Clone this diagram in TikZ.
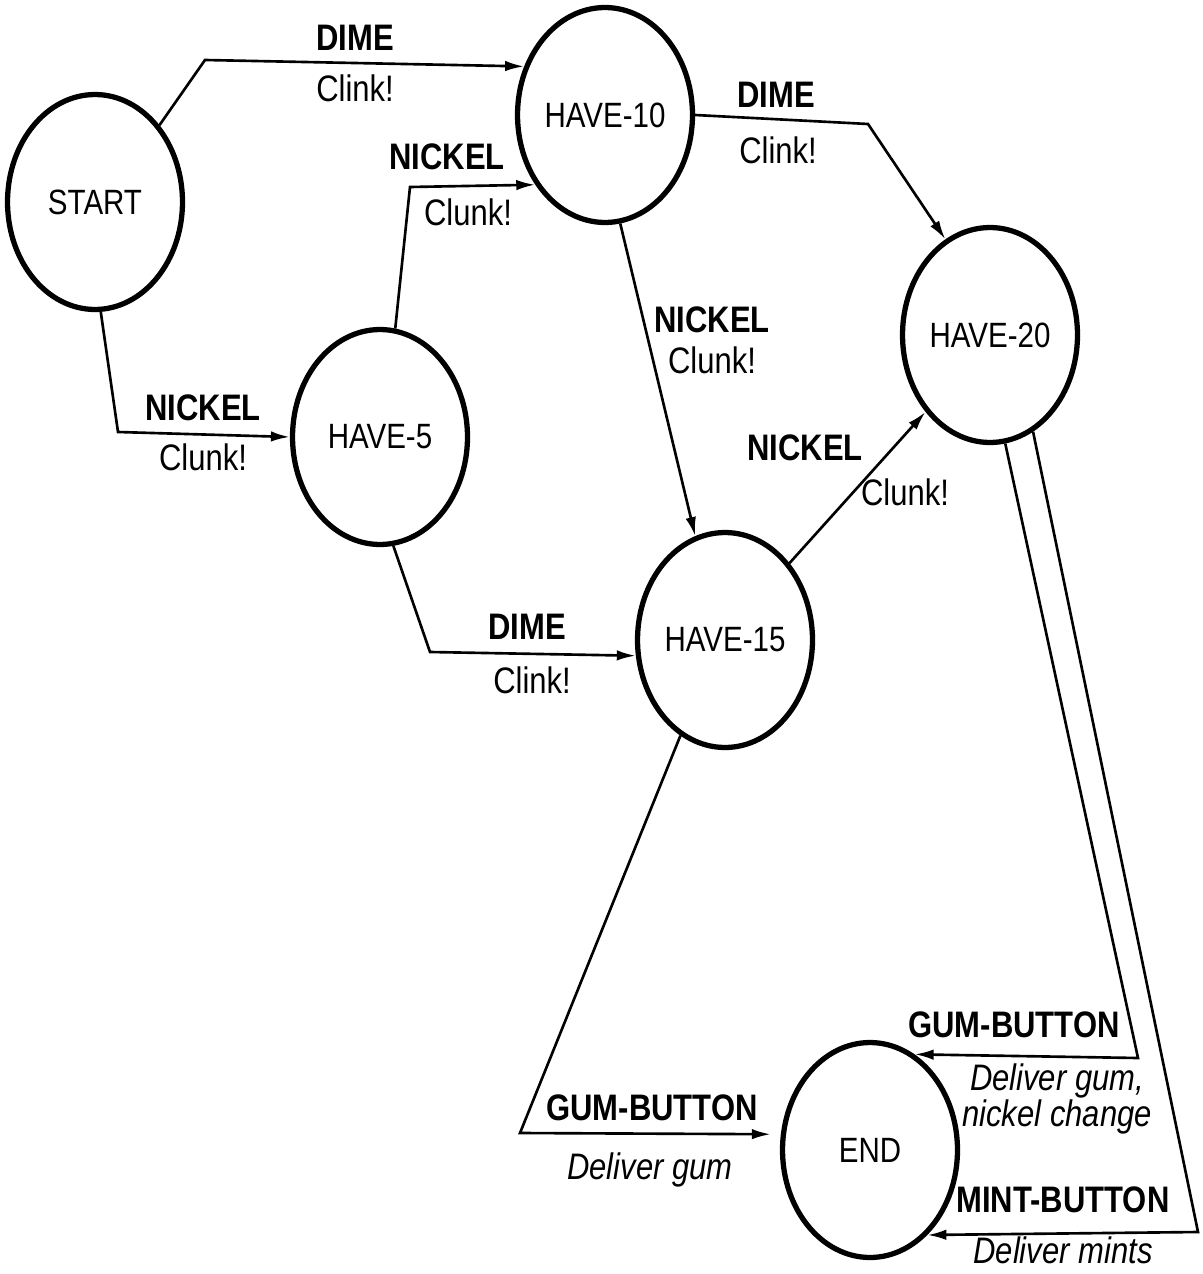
\documentclass[tikz,border=0pt]{standalone}
\usepackage{fontspec}
\setmainfont{Liberation Sans}[FakeStretch=0.84]
\usetikzlibrary{arrows.meta,shapes.geometric}

\begin{document}
\begin{tikzpicture}[x=0.02cm,y=-0.02cm,>=Latex]
  \tikzset{
    stateoval/.style={
      ellipse,
      draw,
      line width=3pt,
      minimum width=3.5cm,
      minimum height=4.3cm,
      inner sep=0pt,
      font=\fontsize{20}{22}\selectfont
    },
    flow/.style={-{Latex[length=3.8mm,width=2.1mm]}, line width=1.5pt},
    flowlabel/.style={font=\bfseries\fontsize{21}{22}\selectfont, inner sep=0pt},
    flowsub/.style={font=\fontsize{21}{22}\selectfont, inner sep=0pt},
    flowact/.style={font=\itshape\fontsize{21}{20}\selectfont, align=center, inner sep=0pt}
  }
  \useasboundingbox (0,0) rectangle (1203,1274);

  \node[stateoval] (start)    at (95,202)   {START};
  \node[stateoval] (have10)   at (605,115)  {HAVE-10};
  \node[stateoval] (have5)    at (380,437)  {HAVE-5};
  \node[stateoval] (have20)   at (990,335)  {HAVE-20};
  \node[stateoval] (have15)   at (725,640)  {HAVE-15};
  \node[stateoval] (endstate) at (870,1150) {END};

  \draw[flow] (start.50) -- (205,60) -- (have10.149);
  \draw[flow] (start.-87) -- (118,432) -- (have5.west);
  \draw[flow] (have5.82) -- (410,187) -- (have10.225);
  \draw[flow] (have10.east) -- (868,124) -- (have20.115);
  \draw[flow] (have10.-82) -- (have15.106);
  \draw[flow] (have15.50) -- (have20.230);
  \draw[flow] (have5.-83) -- (430,652) -- (have15.190);
  \draw[flow, shorten >=0.2cm] (have15.245) -- (520,1133) -- (endstate.170);
  \draw[flow] (have20.-82) -- (1138,1058) -- (endstate.65);
  \draw[flow] (have20.-66) -- (1198,1232) -- (endstate.-56);

  \node[flowlabel] (dimeA)   at (355,38)  {DIME};
  \node[flowsub]   (clinkA)  at (355,88)  {Clink!};
  \node[flowlabel] (nickelA) at (203,408) {NICKEL};
  \node[flowsub]   (clunkA)  at (203,457) {Clunk!};
  \node[flowlabel] (nickelB) at (447,157) {NICKEL};
  \node[flowsub]   (clunkB)  at (468,212) {Clunk!};
  \node[flowlabel] (dimeB)   at (776,95)  {DIME};
  \node[flowsub]   (clinkB)  at (778,150) {Clink!};
  \node[flowlabel] (nickelC) at (712,320) {NICKEL};
  \node[flowsub]   (clunkC)  at (712,360) {Clunk!};
  \node[flowlabel] (nickelD) at (805,448) {NICKEL};
  \node[flowsub]   (clunkD)  at (905,492) {Clunk!};
  \node[flowlabel] (dimeC)   at (527,627) {DIME};
  \node[flowsub]   (clinkC)  at (532,680) {Clink!};

  \node[flowlabel] (gumA)     at (652,1108)  {GUM-BUTTON};
  \node[flowact]   (deliverA) at (650,1170)  {Deliver gum};
  \node[flowlabel] (gumB)     at (1014,1025) {GUM-BUTTON};
  \node[flowact]   (deliverB) at (1057,1099) {Deliver gum,\\nickel change};
  \node[flowlabel] (mint)     at (1063,1200) {MINT-BUTTON};
  \node[flowact]   (deliverC) at (1063,1250) {Deliver mints};
\end{tikzpicture}
\end{document}
